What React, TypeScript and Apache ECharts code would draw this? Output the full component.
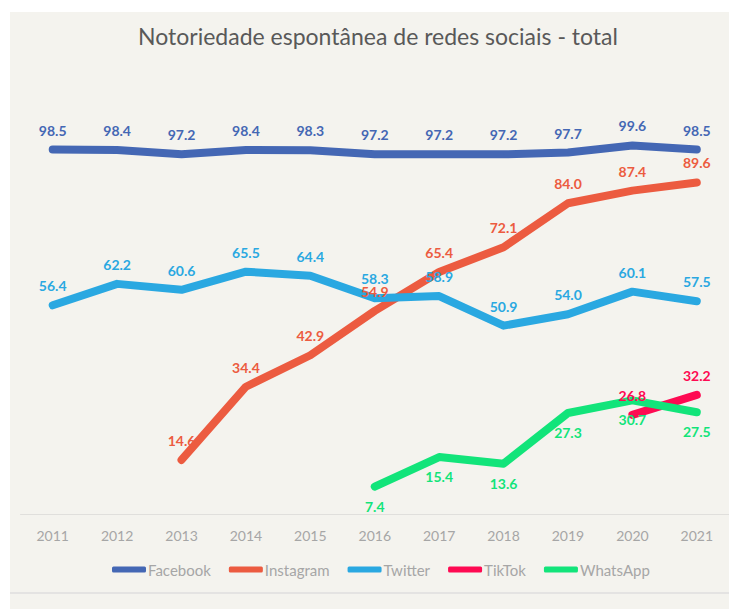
import React, { useEffect, useRef } from "react";
import * as echarts from "echarts";

const years = ["2011", "2012", "2013", "2014", "2015", "2016", "2017", "2018", "2019", "2020", "2021"];
const facebook = [98.5, 98.4, 97.2, 98.4, 98.3, 97.2, 97.2, 97.2, 97.7, 99.6, 98.5];
const instagram = [null, null, 14.6, 34.4, 42.9, 54.9, 65.4, 72.1, 84.0, 87.4, 89.6];
const twitter = [56.4, 62.2, 60.6, 65.5, 64.4, 58.3, 58.9, 50.9, 54.0, 60.1, 57.5];
const tiktok = [null, null, null, null, null, null, null, null, null, 26.8, 32.2];
const whatsapp = [null, null, null, null, null, 7.4, 15.4, 13.6, 27.3, 30.7, 27.5];

const titleText = "Notoriedade espontânea de redes sociais - total";

const FONT = "Lato, 'Open Sans', sans-serif";

function mkSeries(name: string, data: (number | null)[], color: string, pos: "top" | "bottom") {
  return {
    name,
    type: "line",
    data,
    connectNulls: false,
    symbol: "circle",
    symbolSize: 1,
    itemStyle: { color },
    lineStyle: { color, width: 8, cap: "round", join: "round" },
    label: {
      show: true,
      position: pos,
      distance: 12,
      color,
      fontFamily: FONT,
      fontWeight: "bold",
      fontSize: 14,
      formatter: (p: any) => (p.value == null ? "" : Number(p.value).toFixed(1)),
    },
  };
}

export default function App() {
  const ref = useRef<HTMLDivElement>(null);
  useEffect(() => {
    if (!ref.current) return;
    const chart = echarts.init(ref.current, null, { renderer: "svg" });
    chart.setOption({
      animation: false,
      backgroundColor: "#ffffff",
      graphic: [
        { type: "rect", z: -10, shape: { x: 10, y: 12, width: 719, height: 597 }, style: { fill: "#f4f3ee" } },
        { type: "line", z: -9, shape: { x1: 10, y1: 593, x2: 729, y2: 593 }, style: { stroke: "#e4e3e2", lineWidth: 2 } },
        {
          type: "text",
          x: 378,
          y: 36,
          style: {
            text: titleText,
            textAlign: "center",
            textVerticalAlign: "middle",
            fill: "#595959",
            fontSize: 23,
            fontFamily: FONT,
          },
        },
      ],
      grid: { left: 20.5, width: 715, top: 144, height: 370, containLabel: false },
      xAxis: {
        type: "category",
        data: years,
        boundaryGap: true,
        axisLine: { lineStyle: { color: "#e0dfdc", width: 1 } },
        axisTick: { show: false },
        axisLabel: { color: "#a6a6a6", fontSize: 14, fontFamily: FONT, margin: 14 },
      },
      yAxis: {
        type: "value",
        min: 0,
        max: 100,
        show: false,
        splitLine: { show: false },
      },
      legend: {
        left: 107,
        top: 557,
        icon: "roundRect",
        itemWidth: 34,
        itemHeight: 6,
        itemGap: 18,
        textStyle: { color: "#a6a6a6", fontSize: 15, fontFamily: FONT, padding: [0, 0, 0, -3] },
        data: ["Facebook", "Instagram", "Twitter", "TikTok", "WhatsApp"],
      },
      series: [
        mkSeries("Facebook", facebook, "#4467b4", "top"),
        mkSeries("Instagram", instagram, "#ec5b40", "top"),
        mkSeries("Twitter", twitter, "#2aa8e1", "top"),
        mkSeries("TikTok", tiktok, "#fe0a52", "top"),
        mkSeries("WhatsApp", whatsapp, "#12e47a", "bottom"),
      ],
    });
    return () => chart.dispose();
  }, []);
  return (
    <div
      ref={ref}
      style={{ position: "fixed", left: 0, top: 0, width: 729, height: 609 }}
    />
  );
}
